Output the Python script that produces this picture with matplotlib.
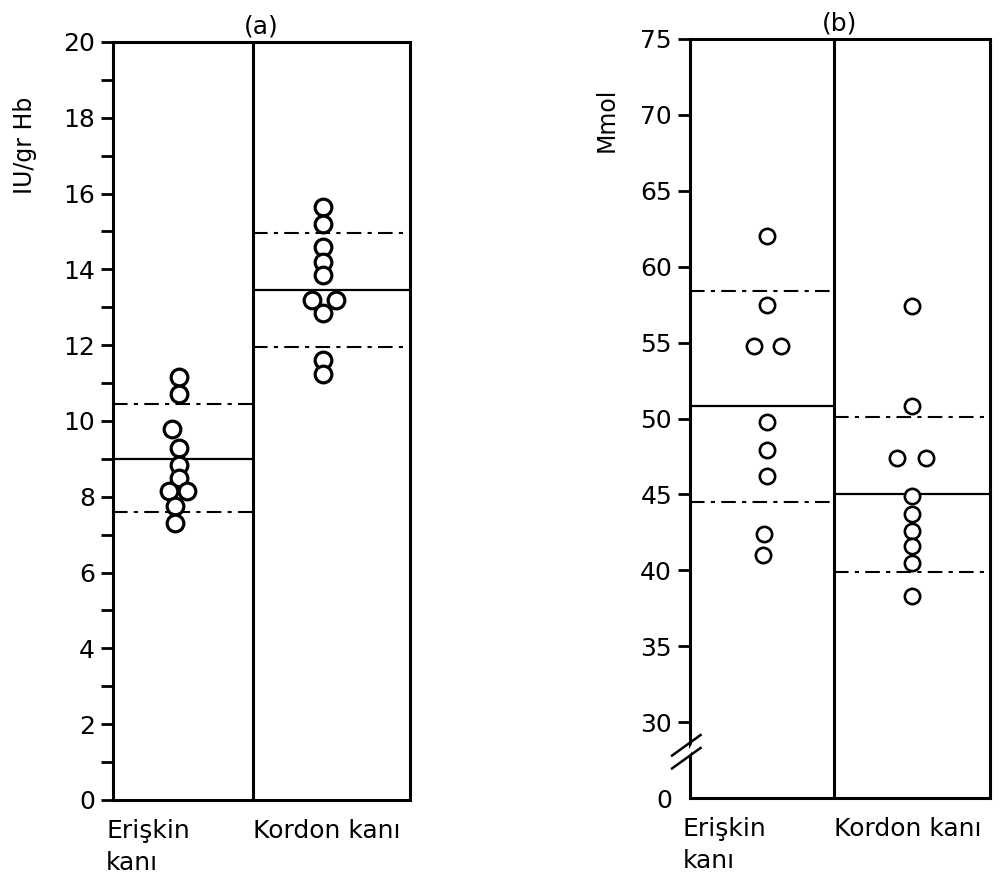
import numpy as np
import matplotlib.pyplot as plt
from matplotlib.ticker import MultipleLocator
import matplotlib.transforms as mtransforms

plt.rcParams['font.family'] = 'DejaVu Sans'

groups = ['Erişkin\nkanı', 'Kordon kanı']

# panel (a): IU/gr Hb
a_adult = [11.15, 10.7, 9.8, 9.3, 8.85, 8.5, 8.15, 8.15, 7.75, 7.3]
a_cord = [15.65, 15.2, 14.6, 14.2, 13.85, 13.2, 13.2, 12.85, 11.6, 11.25]
a_mean = [9.0, 13.45]
a_low = [7.6, 11.95]
a_high = [10.45, 14.95]

# panel (b): Mmol
b_adult = [62.0, 57.5, 54.8, 54.8, 49.8, 47.9, 46.2, 42.4, 41.0]
b_cord = [57.4, 50.8, 47.4, 47.4, 44.9, 43.7, 42.6, 41.6, 40.5, 38.3]
b_mean = [50.8, 45.0]
b_low = [44.5, 39.9]
b_high = [58.4, 50.1]

# horizontal jitter of the points inside each column (in column units)
a_adult_dx = [0, 0, -0.05, 0, 0, 0.0, -0.07, 0.06, -0.03, -0.03]
a_cord_dx = [0, 0, 0, 0, 0, -0.08, 0.09, 0, 0, 0]
b_adult_dx = [0, 0, -0.09, 0.1, 0, 0, 0, -0.02, -0.03]
b_cord_dx = [0, 0, -0.1, 0.1, 0, 0, 0, 0, 0, 0]

fig = plt.figure(figsize=(10.03, 8.82), dpi=100)
ax1 = fig.add_axes([0.1127, 0.093, 0.296, 0.8594])
ax2 = fig.add_axes([0.688, 0.0952, 0.299, 0.8606])

dash = (0, (7, 3, 2, 3))
fs = 18


def style(ax):
    for s in ax.spines.values():
        s.set_linewidth(2.2)
    ax.tick_params(axis='y', which='both', direction='out', length=9, width=2, labelsize=fs, pad=4)
    ax.tick_params(axis='x', which='both', bottom=False, labelbottom=False)


def draw(ax, adult, cord, dxa, dxc, mean, low, high, split, right, centers, ms, mew):
    ax.axvline(split, color='black', lw=2.2)
    edges = [(0, split), (split, right)]
    for k in range(2):
        x0, x1 = edges[k]
        ax.hlines(mean[k], x0, x1, color='black', lw=1.6)
        ax.hlines([low[k], high[k]], x0, x1, color='black', lw=1.5, linestyles=[dash])
    xs = centers[0] + np.array(dxa)
    ax.plot(xs, adult, 'o', ms=ms, mfc='white', mec='black', mew=mew, zorder=5)
    xs = centers[1] + np.array(dxc)
    ax.plot(xs, cord, 'o', ms=ms, mfc='white', mec='black', mew=mew, zorder=5)
    ax.set_xlim(0, right)


# panel (a)
draw(ax1, a_adult, a_cord, a_adult_dx, a_cord_dx, a_mean, a_low, a_high,
     1.0, 2.12, [0.47, 1.5], 12, 2.3)
ax1.set_ylim(0, 20)
ax1.yaxis.set_major_locator(MultipleLocator(2))
ax1.yaxis.set_minor_locator(MultipleLocator(1))
style(ax1)
ax1.set_title('(a)', fontsize=fs, pad=6)

# panel (b), broken axis: bottom labelled 0
draw(ax2, b_adult, b_cord, b_adult_dx, b_cord_dx, b_mean, b_low, b_high,
     1.0, 2.083, [0.535, 1.54], 11, 1.9)
ax2.set_ylim(25, 75)
ax2.set_yticks([25, 30, 35, 40, 45, 50, 55, 60, 65, 70, 75])
ax2.set_yticklabels(['0', '30', '35', '40', '45', '50', '55', '60', '65', '70', '75'])
style(ax2)
ax2.yaxis.get_major_ticks()[0].tick1line.set_visible(False)
ax2.set_title('(b)', fontsize=fs, pad=6)

# axis break marks
tr = mtransforms.blended_transform_factory(ax2.transAxes, ax2.transData)
ax2.fill([-0.01, 0.01, 0.01, -0.01], [27.6, 28.3, 28.6, 27.9], color='white',
         transform=tr, clip_on=False, zorder=6)
ax2.plot([-0.06, 0.035], [27.8, 29.15], color='black', lw=1.8, transform=tr, clip_on=False, zorder=7)
ax2.plot([-0.06, 0.035], [26.95, 28.3], color='black', lw=1.8, transform=tr, clip_on=False, zorder=7)

# group labels under each column
for ax in [ax1, ax2]:
    trx = mtransforms.blended_transform_factory(ax.transData, ax.transAxes)
    ax.text(-0.05, -0.025, groups[0], transform=trx, ha='left', va='top', fontsize=fs, linespacing=1.4)
    ax.text(1.0, -0.025, groups[1], transform=trx, ha='left', va='top', fontsize=fs)

fig.text(25 / 1003, 1 - 145 / 882, 'IU/gr Hb', rotation=90, ha='center', va='center', fontsize=17)
fig.text(607 / 1003, 1 - 120 / 882, 'Mmol', rotation=90, ha='center', va='center', fontsize=17)

fig.savefig('out.png', dpi=100)
